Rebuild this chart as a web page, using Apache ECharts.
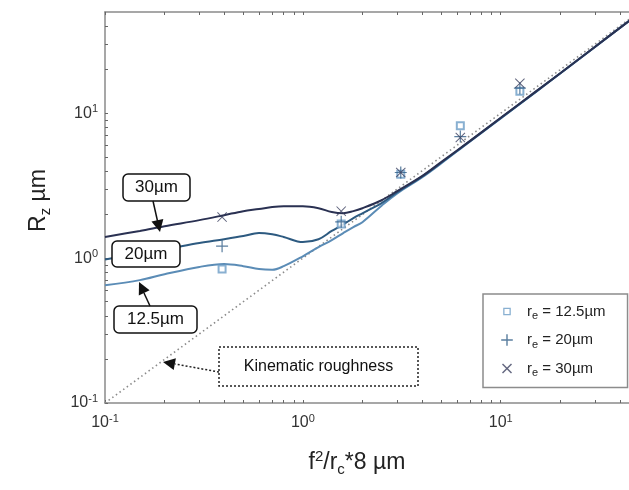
<!DOCTYPE html>
<html>
<head>
<meta charset="utf-8">
<script src="https://cdn.jsdelivr.net/npm/echarts@6/dist/echarts.min.js"></script>
<style>
html,body{margin:0;padding:0;background:#fff;}
#main{width:629px;height:490px;}
</style>
</head>
<body>
<div id="main"></div>
<script>
// ---- data ----
const curveX = [0.1, 0.15, 0.2, 0.3, 0.4, 0.5, 0.6, 0.7, 0.8, 1.0, 1.2, 1.4, 1.6, 1.8, 2, 2.5, 3, 4, 5, 7, 10, 15, 20, 30, 50];
const curve30 = [1.40, 1.54, 1.66, 1.83, 1.98, 2.11, 2.18, 2.25, 2.28, 2.28, 2.21, 2.08, 2.04, 2.11, 2.21, 2.51, 2.90, 3.68, 4.6, 6.45, 9.3, 14.1, 18.9, 28.8, 49];
const curve20 = [0.98, 1.08, 1.15, 1.27, 1.35, 1.42, 1.49, 1.46, 1.40, 1.29, 1.35, 1.54, 1.71, 1.89, 2.04, 2.40, 2.85, 3.65, 4.55, 6.42, 9.25, 14.0, 18.9, 28.8, 49];
const curve125 = [0.65, 0.705, 0.775, 0.87, 0.91, 0.88, 0.84, 0.83, 0.88, 1.03, 1.19, 1.33, 1.49, 1.64, 1.77, 2.30, 2.80, 3.60, 4.50, 6.40, 9.2, 14.0, 18.8, 28.7, 49];
const kinX = [0.1, 50];
const kinY = [0.1, 50];
const pointX = [0.390625, 1.5625, 3.125, 6.25, 12.5];
const points125 = [0.84, 1.72, 3.80, 8.2, 14.2];
const points20 = [1.21, 1.78, 3.90, 6.9, 14.9];
const points30 = [1.92, 2.11, 3.90, 6.8, 16.1];
const majorTicks = [0.1, 1, 10];
const allTicks = [0.1,0.2,0.3,0.4,0.5,0.6,0.7,0.8,0.9,1,2,3,4,5,6,7,8,9,10,20,30,40];
const seriesNames = ['r_e = 12.5µm', 'r_e = 20µm', 'r_e = 30µm'];
const seriesLabels = ['12.5µm', '20µm', '30µm'];

const zip = (xs, ys) => xs.map((x, i) => [x, ys[i]]);
const FONT = 'Liberation Sans, Arial, Helvetica, sans-serif';
const cDark = '#2a3152', cMid = '#2d5a80', cLight = '#5b8cb6';
const colSq = '#6c9cc6', colPlus = '#2f5d86', colX = '#3a3f5e';
const PLUS = 'path://M9,0h2v9h9v2h-9v9h-2v-9h-9v-2h9z';
const CROSS = 'path://M0,1.4L1.4,0L10,8.6L18.6,0L20,1.4L11.4,10L20,18.6L18.6,20L10,11.4L1.4,20L0,18.6L8.6,10Z';
// legend icons (with tiny corner specks so the glyph keeps its reference size)
const LEG_SQ = 'path://M0,0h0.02v0.02h-0.02z M3.2,3.2h7.6v7.6h-7.6z M4.5,4.5v5h5v-5z M13.98,13.98h0.02v0.02h-0.02z';
const LEG_PLUS = 'path://M0,0h0.02v0.02h-0.02z M6.3,1.2h1.4v5.1h5.1v1.4h-5.1v5.1h-1.4v-5.1h-5.1v-1.4h5.1z M13.98,13.98h0.02v0.02h-0.02z';
const LEG_X = 'path://M0,0h0.02v0.02h-0.02z M2,3L3,2L7,6L11,2L12,3L8,7L12,11L11,12L7,8L3,12L2,11L6,7Z M13.98,13.98h0.02v0.02h-0.02z';

const tickLabel = v => {
  const e = Math.round(Math.log10(v));
  return '{b|10}{s|' + e + '}';
};
const tickRich = {
  b: {fontSize: 16, fontFamily: FONT, color: '#333'},
  s: {fontSize: 11, fontFamily: FONT, color: '#333', padding: [0, 0, 9, 0]}
};
const axisBase = {
  type: 'log', logBase: 10, min: 0.1, max: 50,
  axisLine: {show: true, lineStyle: {color: '#8a8a8a', width: 1.5}},
  axisTick: {show: true, inside: true, length: 3, customValues: allTicks, lineStyle: {color: '#666', width: 1}},
  splitLine: {show: false},
  minorTick: {show: false}
};

const chart = echarts.init(document.getElementById('main'), null, {renderer: 'canvas'});
chart.setOption({
  animation: false,
  backgroundColor: '#fff',
  grid: {left: 105, top: 12, width: 534, height: 391, containLabel: false, outerBoundsMode: 'none'},
  xAxis: [
    Object.assign({}, axisBase, {
      position: 'bottom',
      axisLabel: {show: true, customValues: majorTicks, formatter: tickLabel, rich: tickRich, margin: 10},
      name: '{m|f}{sup|2}{m|/r}{sub|c}{m|*8 µm}',
      nameLocation: 'middle', nameGap: 45,
      nameTextStyle: {padding: [0, 30, 0, 0], rich: {
        m: {fontSize: 23, fontFamily: FONT, color: '#222'},
        sup: {fontSize: 15, fontFamily: FONT, color: '#222', padding: [0, 0, 12, 0]},
        sub: {fontSize: 15, fontFamily: FONT, color: '#222', padding: [14, 0, 0, 0]}
      }}
    }),
    Object.assign({}, axisBase, {position: 'top', axisLabel: {show: false}})
  ],
  yAxis: [
    Object.assign({}, axisBase, {
      position: 'left',
      axisLabel: {show: true, customValues: majorTicks, formatter: tickLabel, rich: tickRich, margin: 7},
      name: '{m|R}{sub|z}{m| µm}',
      nameLocation: 'middle', nameRotate: 90, nameGap: 52,
      nameTextStyle: {padding: [0, 0, 0, 14], rich: {
        m: {fontSize: 23, fontFamily: FONT, color: '#222'},
        sub: {fontSize: 15, fontFamily: FONT, color: '#222', padding: [14, 0, 0, 0]}
      }}
    }),
    Object.assign({}, axisBase, {position: 'right', axisLabel: {show: false}})
  ],
  legend: {
    orient: 'vertical', left: 483, top: 294,
    data: [
      {name: seriesNames[0], icon: LEG_SQ, itemStyle: {color: colSq, borderWidth: 0}},
      {name: seriesNames[1], icon: LEG_PLUS, itemStyle: {color: colPlus, borderWidth: 0}},
      {name: seriesNames[2], icon: LEG_X, itemStyle: {color: colX, borderWidth: 0}}
    ],
    borderColor: '#8c8c8c', borderWidth: 1.5, borderRadius: 0,
    padding: [10, 22, 9, 17],
    itemGap: 11, itemWidth: 14, itemHeight: 18,
    formatter: name => {
      const i = seriesNames.indexOf(name);
      return '{g|}{t|r}{sub|e}{t| = ' + seriesLabels[i] + '}';
    },
    textStyle: {rich: {
      g: {width: 8},
      t: {fontSize: 15, fontFamily: FONT, color: '#222'},
      sub: {fontSize: 11, fontFamily: FONT, color: '#222', padding: [9, 0, 0, 0]}
    }}
  },
  series: [
    {type: 'line', name: 'kin', data: zip(kinX, kinY), showSymbol: false, symbol: 'none',
     lineStyle: {color: '#8a8a8a', width: 1.6, type: [1.5, 3]}, z: 2, silent: true},
    {type: 'line', name: 'c125', data: zip(curveX, curve125), smooth: 0.35, symbol: 'none',
     lineStyle: {color: cLight, width: 2}, z: 3},
    {type: 'line', name: 'c20', data: zip(curveX, curve20), smooth: 0.35, symbol: 'none',
     lineStyle: {color: cMid, width: 2}, z: 3},
    {type: 'line', name: 'c30', data: zip(curveX, curve30), smooth: 0.35, symbol: 'none',
     lineStyle: {color: cDark, width: 2}, z: 3},
    {type: 'scatter', name: seriesNames[0], data: zip(pointX, points125), symbol: 'emptyRect', symbolSize: 7,
     itemStyle: {color: colSq, borderColor: colSq, borderWidth: 1.3}, z: 4},
    {type: 'scatter', name: seriesNames[1], data: zip(pointX, points20), symbol: PLUS, symbolSize: 12,
     itemStyle: {color: colPlus}, z: 4},
    {type: 'scatter', name: seriesNames[2], data: zip(pointX, points30), symbol: CROSS, symbolSize: 10,
     itemStyle: {color: colX}, z: 4}
  ],
  graphic: [
    // 30µm box + arrow
    {type: 'rect', shape: {x: 123, y: 174, width: 67, height: 27, r: 5}, style: {fill: '#fff', stroke: '#111', lineWidth: 1.5}, z: 10},
    {type: 'text', x: 156.5, y: 187.5, style: {text: '30µm', font: '17px ' + FONT, fill: '#111', align: 'center', verticalAlign: 'middle'}, z: 11},
    {type: 'line', shape: {x1: 153, y1: 201, x2: 157.5, y2: 221}, style: {stroke: '#111', lineWidth: 1.5}, z: 10},
    {type: 'polygon', shape: {points: [[160, 232], [163.3, 219.0], [151.5, 221.6]]}, style: {fill: '#111'}, z: 10},
    // 20µm box
    {type: 'rect', shape: {x: 112, y: 241, width: 68, height: 26, r: 5}, style: {fill: '#fff', stroke: '#111', lineWidth: 1.5}, z: 10},
    {type: 'text', x: 146, y: 254, style: {text: '20µm', font: '17px ' + FONT, fill: '#111', align: 'center', verticalAlign: 'middle'}, z: 11},
    // 12.5µm box + arrow
    {type: 'rect', shape: {x: 114, y: 306, width: 83, height: 27, r: 5}, style: {fill: '#fff', stroke: '#111', lineWidth: 1.5}, z: 10},
    {type: 'text', x: 155.5, y: 319.5, style: {text: '12.5µm', font: '17px ' + FONT, fill: '#111', align: 'center', verticalAlign: 'middle'}, z: 11},
    {type: 'line', shape: {x1: 150, y1: 306, x2: 144, y2: 293}, style: {stroke: '#111', lineWidth: 1.5}, z: 10},
    {type: 'polygon', shape: {points: [[139, 282], [149.6, 290.2], [138.8, 295.4]]}, style: {fill: '#111'}, z: 10},
    // Kinematic roughness box + arrow
    {type: 'rect', shape: {x: 219, y: 347, width: 199, height: 39}, style: {fill: '#fff', stroke: '#222', lineWidth: 1.5, lineDash: [2, 2]}, z: 10},
    {type: 'text', x: 318.5, y: 366.5, style: {text: 'Kinematic roughness', font: '16px ' + FONT, fill: '#111', align: 'center', verticalAlign: 'middle'}, z: 11},
    {type: 'line', shape: {x1: 219, y1: 372, x2: 175, y2: 364}, style: {stroke: '#222', lineWidth: 1.5, lineDash: [2, 2]}, z: 10},
    {type: 'polygon', shape: {points: [[163, 362], [175.9, 358.2], [173.7, 370.0]]}, style: {fill: '#111'}, z: 10}
  ]
});
</script>
</body>
</html>
